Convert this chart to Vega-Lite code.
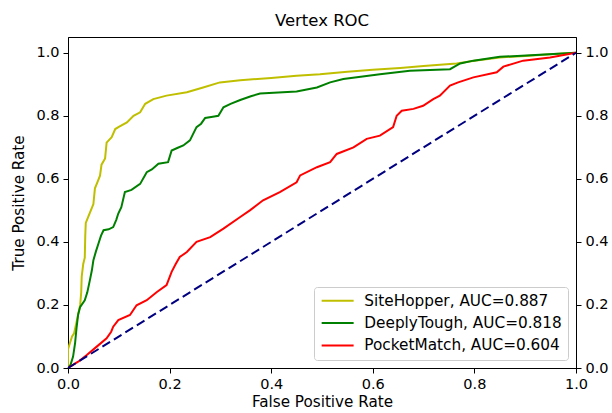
{
  "$schema": "https://vega.github.io/schema/vega-lite/v6.json",
  "width": 508,
  "height": 331,
  "autosize": "none",
  "padding": {"left": 68, "top": 37, "right": 36, "bottom": 45},
  "title": {"text": "Vertex ROC", "fontSize": 16.5, "font": "DejaVu Sans", "fontWeight": "normal", "color": "black", "offset": 8},
  "config": {
    "font": "DejaVu Sans",
    "view": {"stroke": "black", "strokeWidth": 1},
    "axis": {
      "domainColor": "black", "tickColor": "black", "labelColor": "black", "titleColor": "black",
      "labelFontSize": 14.5, "titleFontSize": 15.2, "titleFontWeight": "normal",
      "grid": false, "tickSize": 5, "labelPadding": 4, "labelFlush": false, "labelOverlap": false,
      "labelFont": "DejaVu Sans", "titleFont": "DejaVu Sans"
    },
    "legend": {
      "orient": "bottom-right", "offset": 8, "padding": 6,
      "fillColor": "rgba(255,255,255,0.8)", "strokeColor": "#cccccc", "cornerRadius": 3,
      "labelFontSize": 15.3, "labelFont": "DejaVu Sans", "labelColor": "black", "labelLimit": 400,
      "symbolType": "M-1,0H4.33", "symbolStrokeWidth": 2, "symbolSize": 144,
      "rowPadding": 6.4, "labelOffset": 29
    }
  },
  "datasets": {
    "curves": [
      {"m": "SiteHopper", "o": 0, "x": 0, "y": 0},
      {"m": "SiteHopper", "o": 1, "x": 0, "y": 0.06},
      {"m": "SiteHopper", "o": 2, "x": 0.004, "y": 0.08},
      {"m": "SiteHopper", "o": 3, "x": 0.008, "y": 0.1},
      {"m": "SiteHopper", "o": 4, "x": 0.012, "y": 0.11},
      {"m": "SiteHopper", "o": 5, "x": 0.016, "y": 0.14},
      {"m": "SiteHopper", "o": 6, "x": 0.02, "y": 0.17},
      {"m": "SiteHopper", "o": 7, "x": 0.024, "y": 0.2},
      {"m": "SiteHopper", "o": 8, "x": 0.026, "y": 0.24},
      {"m": "SiteHopper", "o": 9, "x": 0.027, "y": 0.29},
      {"m": "SiteHopper", "o": 10, "x": 0.03, "y": 0.33},
      {"m": "SiteHopper", "o": 11, "x": 0.033, "y": 0.35},
      {"m": "SiteHopper", "o": 12, "x": 0.034, "y": 0.42},
      {"m": "SiteHopper", "o": 13, "x": 0.035, "y": 0.46},
      {"m": "SiteHopper", "o": 14, "x": 0.04, "y": 0.48},
      {"m": "SiteHopper", "o": 15, "x": 0.045, "y": 0.5},
      {"m": "SiteHopper", "o": 16, "x": 0.05, "y": 0.52},
      {"m": "SiteHopper", "o": 17, "x": 0.053, "y": 0.57},
      {"m": "SiteHopper", "o": 18, "x": 0.058, "y": 0.59},
      {"m": "SiteHopper", "o": 19, "x": 0.063, "y": 0.61},
      {"m": "SiteHopper", "o": 20, "x": 0.066, "y": 0.645},
      {"m": "SiteHopper", "o": 21, "x": 0.073, "y": 0.665},
      {"m": "SiteHopper", "o": 22, "x": 0.076, "y": 0.715},
      {"m": "SiteHopper", "o": 23, "x": 0.086, "y": 0.732},
      {"m": "SiteHopper", "o": 24, "x": 0.093, "y": 0.758},
      {"m": "SiteHopper", "o": 25, "x": 0.1, "y": 0.765},
      {"m": "SiteHopper", "o": 26, "x": 0.116, "y": 0.779},
      {"m": "SiteHopper", "o": 27, "x": 0.129, "y": 0.8},
      {"m": "SiteHopper", "o": 28, "x": 0.142, "y": 0.811},
      {"m": "SiteHopper", "o": 29, "x": 0.152, "y": 0.838},
      {"m": "SiteHopper", "o": 30, "x": 0.168, "y": 0.853},
      {"m": "SiteHopper", "o": 31, "x": 0.194, "y": 0.864},
      {"m": "SiteHopper", "o": 32, "x": 0.234, "y": 0.875},
      {"m": "SiteHopper", "o": 33, "x": 0.266, "y": 0.89},
      {"m": "SiteHopper", "o": 34, "x": 0.299, "y": 0.906},
      {"m": "SiteHopper", "o": 35, "x": 0.339, "y": 0.913},
      {"m": "SiteHopper", "o": 36, "x": 0.4, "y": 0.92},
      {"m": "SiteHopper", "o": 37, "x": 0.45, "y": 0.927},
      {"m": "SiteHopper", "o": 38, "x": 0.496, "y": 0.932},
      {"m": "SiteHopper", "o": 39, "x": 0.55, "y": 0.94},
      {"m": "SiteHopper", "o": 40, "x": 0.6, "y": 0.946},
      {"m": "SiteHopper", "o": 41, "x": 0.654, "y": 0.952},
      {"m": "SiteHopper", "o": 42, "x": 0.7, "y": 0.958},
      {"m": "SiteHopper", "o": 43, "x": 0.765, "y": 0.966},
      {"m": "SiteHopper", "o": 44, "x": 0.8, "y": 0.975},
      {"m": "SiteHopper", "o": 45, "x": 0.85, "y": 0.985},
      {"m": "SiteHopper", "o": 46, "x": 0.9, "y": 0.99},
      {"m": "SiteHopper", "o": 47, "x": 0.95, "y": 0.995},
      {"m": "SiteHopper", "o": 48, "x": 1, "y": 1},
      {"m": "DeeplyTough", "o": 0, "x": 0, "y": 0},
      {"m": "DeeplyTough", "o": 1, "x": 0.005, "y": 0.01},
      {"m": "DeeplyTough", "o": 2, "x": 0.01, "y": 0.036},
      {"m": "DeeplyTough", "o": 3, "x": 0.014, "y": 0.08},
      {"m": "DeeplyTough", "o": 4, "x": 0.017, "y": 0.13},
      {"m": "DeeplyTough", "o": 5, "x": 0.02, "y": 0.17},
      {"m": "DeeplyTough", "o": 6, "x": 0.024, "y": 0.194},
      {"m": "DeeplyTough", "o": 7, "x": 0.033, "y": 0.215},
      {"m": "DeeplyTough", "o": 8, "x": 0.038, "y": 0.24},
      {"m": "DeeplyTough", "o": 9, "x": 0.043, "y": 0.278},
      {"m": "DeeplyTough", "o": 10, "x": 0.047, "y": 0.31},
      {"m": "DeeplyTough", "o": 11, "x": 0.05, "y": 0.342},
      {"m": "DeeplyTough", "o": 12, "x": 0.055, "y": 0.37},
      {"m": "DeeplyTough", "o": 13, "x": 0.06, "y": 0.395},
      {"m": "DeeplyTough", "o": 14, "x": 0.065, "y": 0.42},
      {"m": "DeeplyTough", "o": 15, "x": 0.07, "y": 0.437},
      {"m": "DeeplyTough", "o": 16, "x": 0.08, "y": 0.44},
      {"m": "DeeplyTough", "o": 17, "x": 0.089, "y": 0.447},
      {"m": "DeeplyTough", "o": 18, "x": 0.095, "y": 0.47},
      {"m": "DeeplyTough", "o": 19, "x": 0.099, "y": 0.49},
      {"m": "DeeplyTough", "o": 20, "x": 0.105, "y": 0.51},
      {"m": "DeeplyTough", "o": 21, "x": 0.112, "y": 0.558},
      {"m": "DeeplyTough", "o": 22, "x": 0.125, "y": 0.565},
      {"m": "DeeplyTough", "o": 23, "x": 0.142, "y": 0.584},
      {"m": "DeeplyTough", "o": 24, "x": 0.155, "y": 0.621},
      {"m": "DeeplyTough", "o": 25, "x": 0.165, "y": 0.63},
      {"m": "DeeplyTough", "o": 26, "x": 0.178, "y": 0.648},
      {"m": "DeeplyTough", "o": 27, "x": 0.197, "y": 0.653},
      {"m": "DeeplyTough", "o": 28, "x": 0.204, "y": 0.69},
      {"m": "DeeplyTough", "o": 29, "x": 0.215, "y": 0.698},
      {"m": "DeeplyTough", "o": 30, "x": 0.227, "y": 0.706},
      {"m": "DeeplyTough", "o": 31, "x": 0.24, "y": 0.722},
      {"m": "DeeplyTough", "o": 32, "x": 0.253, "y": 0.764},
      {"m": "DeeplyTough", "o": 33, "x": 0.262, "y": 0.775},
      {"m": "DeeplyTough", "o": 34, "x": 0.27, "y": 0.793},
      {"m": "DeeplyTough", "o": 35, "x": 0.285, "y": 0.797},
      {"m": "DeeplyTough", "o": 36, "x": 0.296, "y": 0.8},
      {"m": "DeeplyTough", "o": 37, "x": 0.306, "y": 0.827},
      {"m": "DeeplyTough", "o": 38, "x": 0.32, "y": 0.838},
      {"m": "DeeplyTough", "o": 39, "x": 0.339, "y": 0.85},
      {"m": "DeeplyTough", "o": 40, "x": 0.36, "y": 0.862},
      {"m": "DeeplyTough", "o": 41, "x": 0.378, "y": 0.871},
      {"m": "DeeplyTough", "o": 42, "x": 0.45, "y": 0.877},
      {"m": "DeeplyTough", "o": 43, "x": 0.49, "y": 0.89},
      {"m": "DeeplyTough", "o": 44, "x": 0.516, "y": 0.906},
      {"m": "DeeplyTough", "o": 45, "x": 0.542, "y": 0.917},
      {"m": "DeeplyTough", "o": 46, "x": 0.58, "y": 0.925},
      {"m": "DeeplyTough", "o": 47, "x": 0.614, "y": 0.932},
      {"m": "DeeplyTough", "o": 48, "x": 0.673, "y": 0.943},
      {"m": "DeeplyTough", "o": 49, "x": 0.752, "y": 0.948},
      {"m": "DeeplyTough", "o": 50, "x": 0.772, "y": 0.966},
      {"m": "DeeplyTough", "o": 51, "x": 0.798, "y": 0.975},
      {"m": "DeeplyTough", "o": 52, "x": 0.85, "y": 0.987},
      {"m": "DeeplyTough", "o": 53, "x": 0.929, "y": 0.994},
      {"m": "DeeplyTough", "o": 54, "x": 1, "y": 1},
      {"m": "PocketMatch", "o": 0, "x": 0, "y": 0},
      {"m": "PocketMatch", "o": 1, "x": 0.02, "y": 0.02},
      {"m": "PocketMatch", "o": 2, "x": 0.037, "y": 0.041},
      {"m": "PocketMatch", "o": 3, "x": 0.056, "y": 0.067},
      {"m": "PocketMatch", "o": 4, "x": 0.076, "y": 0.094},
      {"m": "PocketMatch", "o": 5, "x": 0.085, "y": 0.115},
      {"m": "PocketMatch", "o": 6, "x": 0.089, "y": 0.131},
      {"m": "PocketMatch", "o": 7, "x": 0.099, "y": 0.152},
      {"m": "PocketMatch", "o": 8, "x": 0.122, "y": 0.168},
      {"m": "PocketMatch", "o": 9, "x": 0.135, "y": 0.199},
      {"m": "PocketMatch", "o": 10, "x": 0.155, "y": 0.215},
      {"m": "PocketMatch", "o": 11, "x": 0.175, "y": 0.241},
      {"m": "PocketMatch", "o": 12, "x": 0.194, "y": 0.263},
      {"m": "PocketMatch", "o": 13, "x": 0.204, "y": 0.305},
      {"m": "PocketMatch", "o": 14, "x": 0.212, "y": 0.33},
      {"m": "PocketMatch", "o": 15, "x": 0.22, "y": 0.352},
      {"m": "PocketMatch", "o": 16, "x": 0.234, "y": 0.368},
      {"m": "PocketMatch", "o": 17, "x": 0.253, "y": 0.4},
      {"m": "PocketMatch", "o": 18, "x": 0.28, "y": 0.415},
      {"m": "PocketMatch", "o": 19, "x": 0.306, "y": 0.442},
      {"m": "PocketMatch", "o": 20, "x": 0.339, "y": 0.479},
      {"m": "PocketMatch", "o": 21, "x": 0.358, "y": 0.5},
      {"m": "PocketMatch", "o": 22, "x": 0.384, "y": 0.532},
      {"m": "PocketMatch", "o": 23, "x": 0.417, "y": 0.558},
      {"m": "PocketMatch", "o": 24, "x": 0.45, "y": 0.589},
      {"m": "PocketMatch", "o": 25, "x": 0.457, "y": 0.611},
      {"m": "PocketMatch", "o": 26, "x": 0.49, "y": 0.637},
      {"m": "PocketMatch", "o": 27, "x": 0.516, "y": 0.653},
      {"m": "PocketMatch", "o": 28, "x": 0.529, "y": 0.679},
      {"m": "PocketMatch", "o": 29, "x": 0.562, "y": 0.7},
      {"m": "PocketMatch", "o": 30, "x": 0.588, "y": 0.727},
      {"m": "PocketMatch", "o": 31, "x": 0.614, "y": 0.737},
      {"m": "PocketMatch", "o": 32, "x": 0.64, "y": 0.764},
      {"m": "PocketMatch", "o": 33, "x": 0.647, "y": 0.8},
      {"m": "PocketMatch", "o": 34, "x": 0.657, "y": 0.816},
      {"m": "PocketMatch", "o": 35, "x": 0.68, "y": 0.822},
      {"m": "PocketMatch", "o": 36, "x": 0.699, "y": 0.832},
      {"m": "PocketMatch", "o": 37, "x": 0.719, "y": 0.853},
      {"m": "PocketMatch", "o": 38, "x": 0.732, "y": 0.864},
      {"m": "PocketMatch", "o": 39, "x": 0.752, "y": 0.896},
      {"m": "PocketMatch", "o": 40, "x": 0.768, "y": 0.906},
      {"m": "PocketMatch", "o": 41, "x": 0.798, "y": 0.922},
      {"m": "PocketMatch", "o": 42, "x": 0.844, "y": 0.938},
      {"m": "PocketMatch", "o": 43, "x": 0.857, "y": 0.956},
      {"m": "PocketMatch", "o": 44, "x": 0.896, "y": 0.975},
      {"m": "PocketMatch", "o": 45, "x": 0.949, "y": 0.985},
      {"m": "PocketMatch", "o": 46, "x": 1, "y": 1}
    ],
    "diag": [
      {"x": 0, "y": 0},
      {"x": 1, "y": 1}
    ]
  },
  "layer": [
    {
      "data": {"name": "curves"},
      "mark": {"type": "line", "strokeWidth": 2, "clip": true},
      "encoding": {
        "x": {"field": "x", "type": "quantitative", "scale": {"domain": [0, 1], "nice": false},
              "axis": {"title": "False Positive Rate", "values": [0, 0.2, 0.4, 0.6, 0.8, 1.0], "format": ".1f", "titlePadding": 4}},
        "y": {"field": "y", "type": "quantitative", "scale": {"domain": [0, 1.05], "nice": false, "zero": false},
              "axis": {"title": "True Positive Rate", "orient": "left", "values": [0, 0.2, 0.4, 0.6, 0.8, 1.0], "format": ".1f", "titlePadding": 9}},
        "color": {"field": "m", "type": "nominal",
                  "scale": {"domain": ["SiteHopper", "DeeplyTough", "PocketMatch"], "range": ["#bfbf00", "#008000", "#ff0000"]},
                  "legend": {"title": null, "labelExpr": "datum.label == 'SiteHopper' ? 'SiteHopper, AUC=0.887' : datum.label == 'DeeplyTough' ? 'DeeplyTough, AUC=0.818' : 'PocketMatch, AUC=0.604'"}},
        "order": {"field": "o", "type": "quantitative"}
      }
    },
    {
      "data": {"name": "diag"},
      "mark": {"type": "line", "strokeWidth": 2, "color": "#000080", "strokeDash": [9, 4.5]},
      "encoding": {
        "x": {"field": "x", "type": "quantitative"},
        "y": {"field": "y", "type": "quantitative",
              "axis": {"title": null, "orient": "right", "values": [0, 0.2, 0.4, 0.6, 0.8, 1.0], "format": ".1f"}}
      }
    }
  ],
  "resolve": {"axis": {"y": "independent"}}
}
